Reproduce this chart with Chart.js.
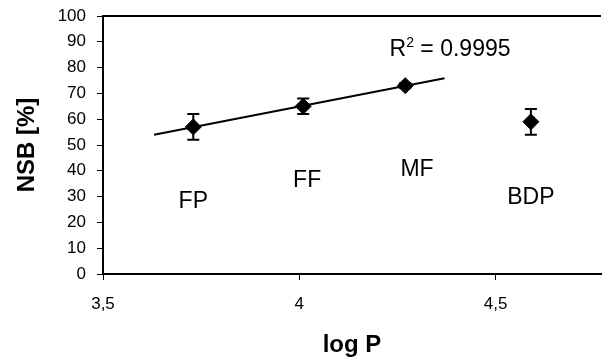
<!DOCTYPE html>
<html>
<head>
<meta charset="utf-8">
<script src="https://cdn.jsdelivr.net/npm/chart.js@4"></script>
<style>
  html, body { margin: 0; padding: 0; background: #fff; overflow: hidden; }
  #nsb__graph { display: block; }
</style>
</head>
<body>
<canvas id="nsb__graph" width="610" height="360"></canvas>
<script>
// NSB vs log P

const drugs = ['FP', 'FF', 'MF', 'BDP'];
const logP = [3.73, 4.01, 4.27, 4.59];
const nsb = [57, 65, 73, 59];
const nsbErr = [5, 3, 1, 5];
const fitDrugs = ['FP', 'FF', 'MF'];     // points used for the trend line
const fitRange = [3.63, 4.37];
const r2Label = '0.9995';
const xTicks = [3.5, 4, 4.5];
const yTicks = [0, 10, 20, 30, 40, 50, 60, 70, 80, 90, 100];

// least squares line through the fitted points
const fx = fitDrugs.map(d => logP[drugs.indexOf(d)]);
const fy = fitDrugs.map(d => nsb[drugs.indexOf(d)]);
const mx = fx.reduce((a, b) => a + b, 0) / fx.length;
const my = fy.reduce((a, b) => a + b, 0) / fy.length;
let sxy = 0, sxx = 0;
fx.forEach((x, i) => { sxy += (x - mx) * (fy[i] - my); sxx += (x - mx) * (x - mx); });
const slope = sxy / sxx;
const trend = fitRange.map(x => ({ x: x, y: my + slope * (x - mx) }));

const points = logP.map((x, i) => ({ x: x, y: nsb[i] }));

// label spots in axis units: [x, y]
const labelAt = { FP: [3.73, 28], FF: [4.02, 36], MF: [4.30, 40.5], BDP: [4.59, 29.5] };

const FONT = '"Liberation Sans", Arial, sans-serif';

const extras = {
  id: 'extras',
  beforeDatasetsDraw(chart) {
    const { ctx, scales: { x, y } } = chart;
    ctx.save();
    ctx.strokeStyle = '#000';
    ctx.lineWidth = 2;
    points.forEach((p, i) => {
      const px = x.getPixelForValue(p.x);
      const top = y.getPixelForValue(p.y + nsbErr[i]);
      const bot = y.getPixelForValue(p.y - nsbErr[i]);
      ctx.beginPath();
      ctx.moveTo(px, top); ctx.lineTo(px, bot);
      ctx.moveTo(px - 6, top); ctx.lineTo(px + 6, top);
      ctx.moveTo(px - 6, bot); ctx.lineTo(px + 6, bot);
      ctx.stroke();
    });
    ctx.restore();
  },
  afterDraw(chart) {
    const { ctx, chartArea, scales: { x, y } } = chart;
    ctx.save();
    // top frame line
    ctx.strokeStyle = '#000';
    ctx.lineWidth = 2;
    ctx.beginPath();
    ctx.moveTo(chartArea.left, chartArea.top);
    ctx.lineTo(chartArea.right, chartArea.top);
    ctx.stroke();

    ctx.fillStyle = '#000';
    ctx.font = '23px ' + FONT;
    ctx.textAlign = 'center';
    ctx.textBaseline = 'middle';
    drugs.forEach(d => {
      const [lx, ly] = labelAt[d];
      ctx.fillText(d, x.getPixelForValue(lx), y.getPixelForValue(ly));
    });

    // R² annotation
    ctx.textAlign = 'left';
    ctx.textBaseline = 'alphabetic';
    let tx = x.getPixelForValue(4.23);
    const ty = y.getPixelForValue(84.5);
    ctx.fillText('R', tx, ty);
    tx += ctx.measureText('R').width;
    ctx.font = '14px ' + FONT;
    ctx.fillText('2', tx, ty - 9);
    tx += ctx.measureText('2').width;
    ctx.font = '23px ' + FONT;
    ctx.fillText(' = ' + r2Label, tx, ty);
    ctx.restore();
  }
};

const config = {
  type: 'scatter',
  data: {
    datasets: [{
      label: 'trend',
      data: trend,
      showLine: true,
      borderColor: '#000',
      borderWidth: 2,
      pointRadius: 0,
      order: 2
    }, {
      label: 'NSB',
      data: points,
      pointStyle: 'rectRot',
      pointRadius: 8,
      pointHoverRadius: 8,
      backgroundColor: '#000',
      borderColor: '#000',
      borderWidth: 1,
      order: 1
    }]
  },
  options: {
    responsive: false,
    animation: false,
    events: [],
    layout: { padding: { top: 16, right: 0, left: 0, bottom: 0 } },
    plugins: { legend: { display: false }, tooltip: { enabled: false } },
    scales: {
      x: {
        type: 'linear',
        min: 3.5,
        max: 4.7686,
        afterBuildTicks: s => { s.ticks = xTicks.map(v => ({ value: v })); },
        afterFit: s => { s.height = 86; s.paddingLeft = 0; s.paddingRight = 0; },
        grid: { display: true, drawOnChartArea: false, drawTicks: true, tickLength: 6, color: '#000', lineWidth: 1 },
        border: { display: true, color: '#000', width: 2 },
        ticks: {
          color: '#000',
          font: { family: FONT, size: 17 },
          padding: 14,
          maxRotation: 0,
          callback: v => String(v).replace('.', ',')
        },
        title: {
          display: true,
          text: 'log P',
          color: '#000',
          font: { family: FONT, size: 24, weight: 'bold' },
          padding: { top: 0, bottom: 0 }
        }
      },
      y: {
        min: 0,
        max: 100,
        afterBuildTicks: s => { s.ticks = yTicks.map(v => ({ value: v })); },
        afterFit: s => { s.width = 103; s.paddingTop = 0; s.paddingBottom = 0; },
        grid: { display: true, drawOnChartArea: false, drawTicks: true, tickLength: 6, color: '#000', lineWidth: 1 },
        border: { display: true, color: '#000', width: 2 },
        ticks: {
          color: '#000',
          font: { family: FONT, size: 17 },
          padding: 11
        },
        title: {
          display: true,
          text: 'NSB [%]',
          color: '#000',
          font: { family: FONT, size: 24, weight: 'bold' },
          padding: { top: 13, bottom: 0 }
        }
      }
    }
  },
  plugins: [extras]
};

const nsbChart = new Chart(document.getElementById('nsb__graph'), config);
</script>
</body>
</html>
